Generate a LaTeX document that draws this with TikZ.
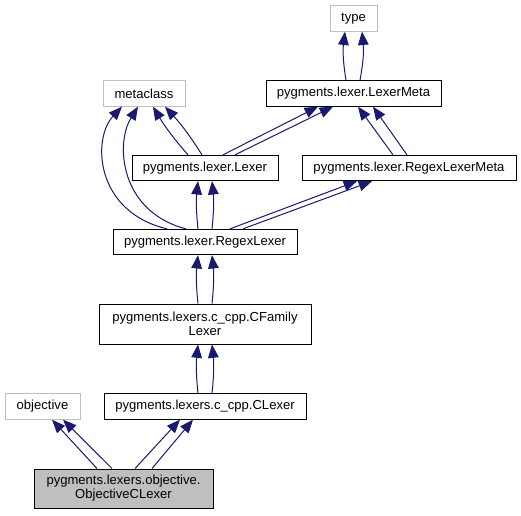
\documentclass[tikz,border=0pt]{standalone}
\usepackage{fontspec}
\setmainfont{Liberation Sans}
\usetikzlibrary{arrows.meta,calc}
\definecolor{azul}{RGB}{25,25,112}
\definecolor{gris}{RGB}{191,191,191}
\definecolor{relleno}{RGB}{191,191,191}
\tikzset{
  clase/.style={draw=black, line width=0.75pt, minimum height=19pt, inner sep=1pt,
    align=center, font=\fontsize{9.8}{10.5}\selectfont},
  externa/.style={clase, draw=gris},
  hereda/.style={draw=azul, line width=0.75pt, -{Triangle[length=10pt,width=8pt]}},
}
\begin{document}
\begin{tikzpicture}[x=0.75pt,y=-0.75pt]
    \useasboundingbox (0,0) rectangle (521,515);
    % Clases
    \node[externa, minimum width=35.25pt] (type) at (353.5,18.5) {type};
    \node[externa, minimum width=61.5pt] (metaclass) at (144,93.5) {metaclass};
    \node[clase, minimum width=131.25pt] (LexerMeta) at (353.5,93.5) {pygments.lexer.LexerMeta};
    \node[clase, minimum width=109.5pt] (Lexer) at (205,168) {pygments.lexer.Lexer};
    \node[clase, minimum width=160.5pt] (RegexLexerMeta) at (409,168) {pygments.lexer.RegexLexerMeta};
    \node[clase, minimum width=138pt] (RegexLexer) at (205,242) {pygments.lexer.RegexLexer};
    \node[clase, minimum width=159pt, minimum height=30pt] (CFamilyLexer) at (205,324) {pygments.lexers.c\_cpp.CFamily\\Lexer};
    \node[externa, minimum width=56.25pt] (objective) at (42.5,406.5) {objective};
    \node[clase, minimum width=151.5pt] (CLexer) at (205,406.5) {pygments.lexers.c\_cpp.CLexer};
    \node[clase, fill=relleno, minimum width=134.25pt, minimum height=29.25pt] (ObjectiveCLexer) at (123.5,488.5) {pygments.lexers.objective.\\ObjectiveCLexer};
    % Herencia: type
    \draw[hereda] ($(LexerMeta.north)+(-7.5,0)$) to[bend left=8] ($(type.south)+(-8.5,0)$);
    \draw[hereda] ($(LexerMeta.north)+(6.5,0)$) to[bend right=8] ($(type.south)+(8.5,0)$);
    % Herencia: metaclass
    \draw[hereda] ($(Lexer.north)+(-17,0)$) to[bend left=5] ($(metaclass.south)+(9,0)$);
    \draw[hereda] ($(Lexer.north)+(-3,0)$) to[bend right=5] ($(metaclass.south)+(21,0)$);
    \draw[hereda] ($(RegexLexer.north)+(-38,0)$) .. controls +(-72,-17) and +(-30,32) .. ($(metaclass.south)+(-22,0)$);
    \draw[hereda] ($(RegexLexer.north)+(-19,0)$) .. controls +(-66,-17) and +(-23,37) .. ($(metaclass.south)+(-6,0)$);
    % Herencia: LexerMeta
    \draw[hereda] ($(Lexer.north)+(18,0)$) -- ($(LexerMeta.south)+(-35.5,0)$);
    \draw[hereda] ($(Lexer.north)+(30,0)$) -- ($(LexerMeta.south)+(-20.5,0)$);
    \draw[hereda] ($(RegexLexerMeta.north)+(-16,0)$) -- ($(LexerMeta.south)+(4.5,0)$);
    \draw[hereda] ($(RegexLexerMeta.north)+(-2,0)$) -- ($(LexerMeta.south)+(19.5,0)$);
    % Herencia: Lexer y RegexLexerMeta
    \draw[hereda] ($(RegexLexer.north)+(-7,0)$) to[bend left=6] ($(Lexer.south)+(-7,0)$);
    \draw[hereda] ($(RegexLexer.north)+(7,0)$) to[bend right=6] ($(Lexer.south)+(7,0)$);
    \draw[hereda] ($(RegexLexer.north)+(25,0)$) -- ($(RegexLexerMeta.south)+(-52,0)$);
    \draw[hereda] ($(RegexLexer.north)+(38,0)$) -- ($(RegexLexerMeta.south)+(-37,0)$);
    % Herencia: cadena c_cpp
    \draw[hereda] ($(CFamilyLexer.north)+(-7,0)$) to[bend left=6] ($(RegexLexer.south)+(-7,0)$);
    \draw[hereda] ($(CFamilyLexer.north)+(7,0)$) to[bend right=6] ($(RegexLexer.south)+(7,0)$);
    \draw[hereda] ($(CLexer.north)+(-7,0)$) to[bend left=6] ($(CFamilyLexer.south)+(-7,0)$);
    \draw[hereda] ($(CLexer.north)+(7,0)$) to[bend right=6] ($(CFamilyLexer.south)+(7,0)$);
    % Herencia: ObjectiveCLexer
    \draw[hereda] ($(ObjectiveCLexer.north)+(-26.5,0)$) -- ($(objective.south)+(9.5,0)$);
    \draw[hereda] ($(ObjectiveCLexer.north)+(-11.5,0)$) -- ($(objective.south)+(20.5,0)$);
    \draw[hereda] ($(ObjectiveCLexer.north)+(11.5,0)$) -- ($(CLexer.south)+(-25,0)$);
    \draw[hereda] ($(ObjectiveCLexer.north)+(28.5,0)$) -- ($(CLexer.south)+(-12,0)$);
\end{tikzpicture}
\end{document}
